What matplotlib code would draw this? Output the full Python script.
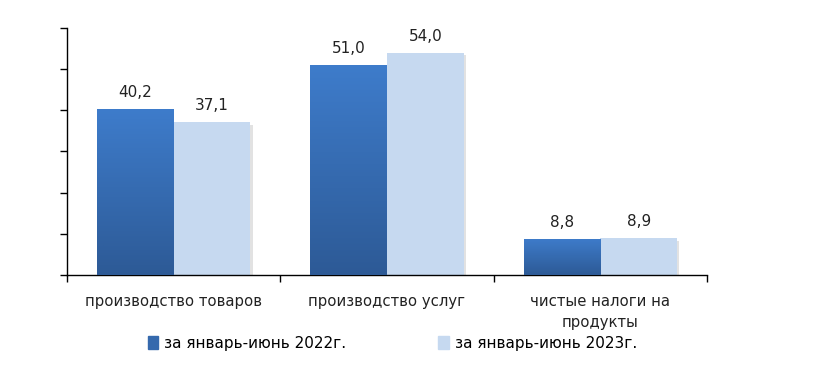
import numpy as np
import matplotlib
matplotlib.use("Agg")
import matplotlib.pyplot as plt
from matplotlib.patches import Rectangle
from matplotlib.colors import LinearSegmentedColormap

categories = ["производство товаров", "производство услуг", "чистые налоги на\nпродукты"]
series_names = ["за январь-июнь 2022г.", "за январь-июнь 2023г."]
vals_2022 = [40.2, 51.0, 8.8]
vals_2023 = [37.1, 54.0, 8.9]
value_labels_2022 = ["40,2", "51,0", "8,8"]
value_labels_2023 = ["37,1", "54,0", "8,9"]

plt.rcParams["font.family"] = ["DejaVu Sans"]

fig = plt.figure(figsize=(8.26, 3.67), dpi=100)
ax = fig.add_axes([0.081, 0.251, 0.775, 0.673])

x = np.arange(len(categories))
w = 0.36
dark = "#3A72B8"
light = "#C6D9F0"
grad = LinearSegmentedColormap.from_list("g", ["#2D5A96", "#3E7CCB"])

bars1 = ax.bar(x - w / 2, vals_2022, w, color=dark, label=series_names[0], zorder=2)
bars2 = ax.bar(x + w / 2, vals_2023, w, color=light, label=series_names[1], zorder=2)

# vertical gradient on the dark bars
g = np.linspace(0, 1, 256).reshape(-1, 1)
for b in bars1:
    x0, y0 = b.get_x(), b.get_y()
    bw, bh = b.get_width(), b.get_height()
    im = ax.imshow(g, cmap=grad, origin="lower", aspect="auto",
                   extent=[x0, x0 + bw, y0, y0 + bh], zorder=3)
    im.set_clip_path(b)

# faint shadow on the right edge of light bars
for b in bars2:
    ax.add_patch(Rectangle((b.get_x() + b.get_width(), 0), 0.010, b.get_height() - 0.6,
                           color="#e2e2e2", zorder=1, lw=0))

for b, t in zip(bars1, value_labels_2022):
    ax.text(b.get_x() + b.get_width() / 2, b.get_height() + 2.2, t,
            ha="center", va="bottom", fontsize=11, color="#222222")
for b, t in zip(bars2, value_labels_2023):
    ax.text(b.get_x() + b.get_width() / 2, b.get_height() + 2.2, t,
            ha="center", va="bottom", fontsize=11, color="#222222")

ax.set_xlim(-0.5, 2.5)
ax.set_ylim(0, 60)
ax.set_yticks(np.arange(0, 61, 10))
ax.set_yticklabels([])
ax.set_xticks([-0.5, 0.5, 1.5, 2.5])
ax.set_xticklabels([])
ax.set_xticks(x, minor=True)
ax.set_xticklabels(categories, minor=True, fontsize=10.7, color="#222222", linespacing=1.45)
ax.tick_params(axis="x", which="minor", length=0, pad=14)
ax.tick_params(axis="x", which="major", length=5, direction="out", width=1)
ax.tick_params(axis="y", length=5, direction="out", width=1)
for s in ["top", "right"]:
    ax.spines[s].set_visible(False)
ax.spines["left"].set_linewidth(1)
ax.spines["bottom"].set_linewidth(1)

handles = [Rectangle((0, 0), 1, 1, color="#3569AD"), Rectangle((0, 0), 1, 1, color=light)]
fig.legend(handles, series_names, loc="center", bbox_to_anchor=(0.475, 0.065), ncol=2,
           frameon=False, fontsize=11, handlelength=0.7, handleheight=0.9,
           handletextpad=0.4, columnspacing=6)

fig.savefig("out.png", dpi=100)
